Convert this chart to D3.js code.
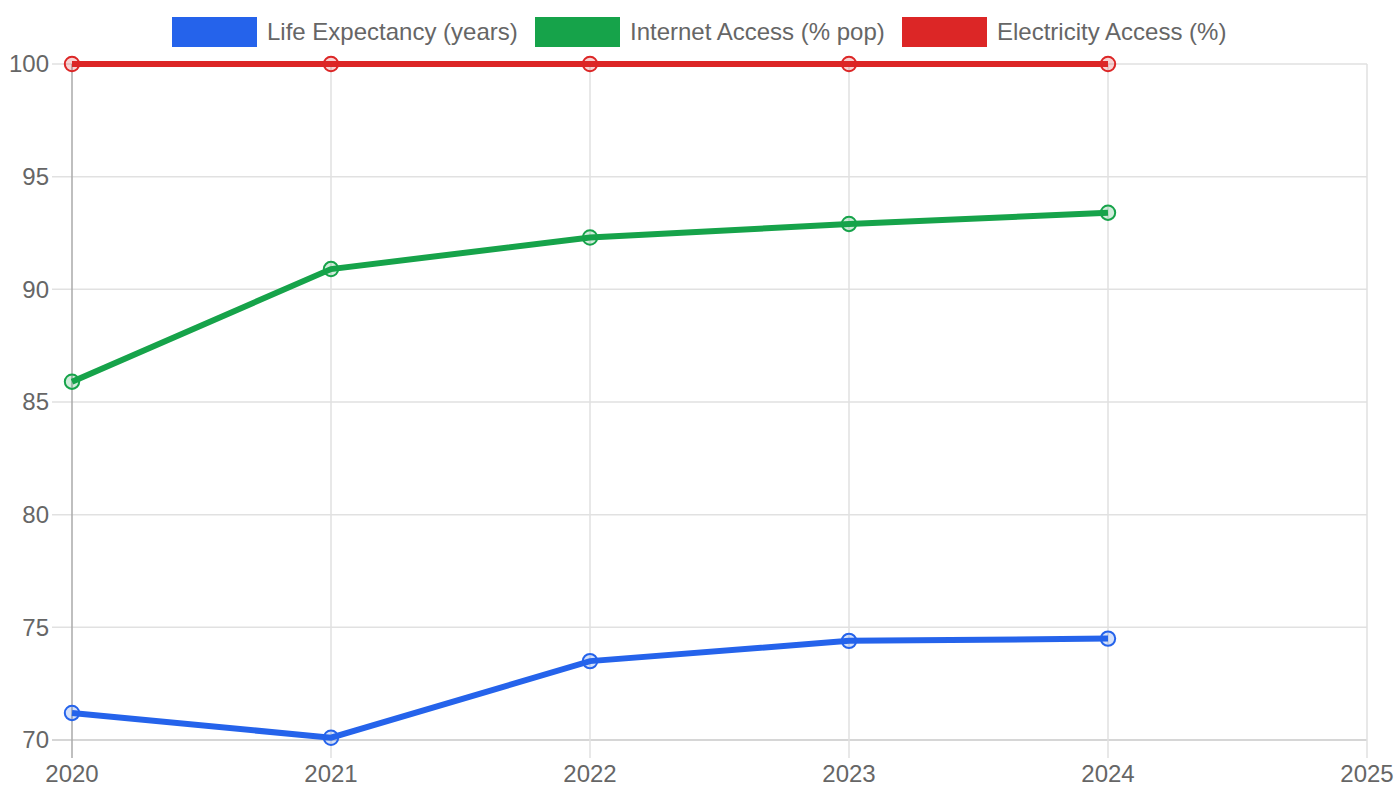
<!DOCTYPE html>
<html><head><meta charset="utf-8">
<script src="https://cdn.jsdelivr.net/npm/d3@7"></script>
<style>body{margin:0;background:#fff}svg{display:block;font-family:"Liberation Sans",Arial,Helvetica,sans-serif}</style>
</head><body><svg id="c" width="1400" height="800"></svg>
<script>
const years = [2020, 2021, 2022, 2023, 2024];
const xTicks = [2020, 2021, 2022, 2023, 2024, 2025];
const yTicks = [70, 75, 80, 85, 90, 95, 100];
const lifeExpectancy = [71.2, 70.1, 73.5, 74.4, 74.5];
const internetAccess = [85.9, 90.9, 92.3, 92.9, 93.4];
const electricityAccess = [100, 100, 100, 100, 100];
const seriesNames = ["Life Expectancy (years)", "Internet Access (% pop)", "Electricity Access (%)"];
const seriesColors = ["#2563eb", "#16a34a", "#dc2626"];
const seriesValues = [lifeExpectancy, internetAccess, electricityAccess];

const svg = d3.select("#c");
const x = d3.scaleLinear().domain([2020, 2025]).range([72, 1367]);
const y = d3.scaleLinear().domain([70, 100]).range([740, 64]);

// grid
const g = svg.append("g");
g.selectAll(".hg").data(yTicks).join("line")
  .attr("x1", 52).attr("x2", 1367)
  .attr("y1", d => y(d)).attr("y2", d => y(d))
  .attr("stroke", d => d === 70 ? "#c8c8c8" : "#e1e1e1").attr("stroke-width", 1.5);
g.selectAll(".vg").data(xTicks).join("line")
  .attr("x1", d => x(d)).attr("x2", d => x(d))
  .attr("y1", 64).attr("y2", 758)
  .attr("stroke", d => d === 2020 ? "#aaaaaa" : "#e1e1e1").attr("stroke-width", 1.5);

// tick labels
svg.append("g").selectAll("text").data(yTicks).join("text")
  .attr("x", 49).attr("y", d => y(d)).attr("dy", "0.35em")
  .attr("text-anchor", "end").attr("font-size", 24).attr("fill", "#666")
  .text(d => d);
svg.append("g").selectAll("text").data(xTicks).join("text")
  .attr("x", d => x(d)).attr("y", 782)
  .attr("text-anchor", "middle").attr("font-size", 24).attr("fill", "#666")
  .text(d => d);

// lines
const line = d3.line().x((d, i) => x(years[i])).y(d => y(d));
seriesValues.forEach((vals, si) => {
  const c = seriesColors[si];
  svg.append("path").datum(vals).attr("d", line)
    .attr("fill", "none").attr("stroke", c).attr("stroke-width", 6);
  svg.append("g").selectAll("circle").data(vals).join("circle")
    .attr("cx", (d, i) => x(years[i])).attr("cy", d => y(d)).attr("r", 7.2)
    .attr("fill", d3.color(c).copy({opacity: 0.2}))
    .attr("stroke", c).attr("stroke-width", 2);
});

// legend
const legendX = [172, 535, 902];
const lg = svg.append("g");
seriesNames.forEach((n, i) => {
  lg.append("rect").attr("x", legendX[i]).attr("y", 17).attr("width", 85).attr("height", 30)
    .attr("fill", seriesColors[i]);
  lg.append("text").attr("x", legendX[i] + 95).attr("y", 32).attr("dy", "0.35em")
    .attr("font-size", 24).attr("fill", "#666").text(n);
});
</script></body></html>
